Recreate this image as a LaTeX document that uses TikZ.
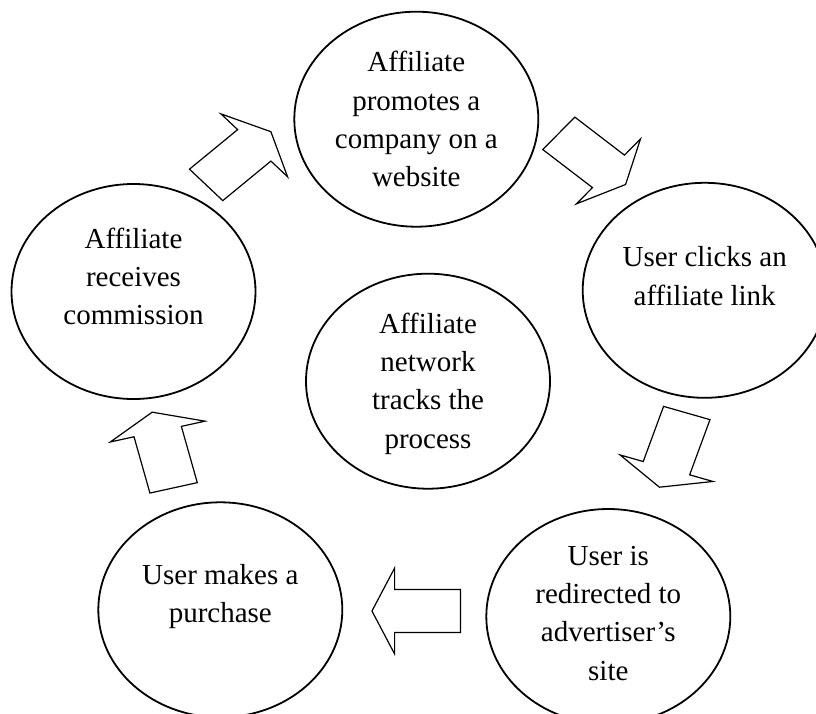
\documentclass[tikz,border=0pt]{standalone}
\usepackage{fontspec}
\setmainfont{Liberation Serif}
\usetikzlibrary{shapes.geometric}

\begin{document}
\begin{tikzpicture}[x=1pt, y=-1pt,
        stage/.style={draw, ellipse, line width=1.8pt, minimum width=244pt, minimum height=215pt,
            inner sep=0pt, align=center, text depth=0pt, font=\fontsize{29pt}{38.3pt}\selectfont},
        pics/blockarrow/.style={code={
            \draw[line width=1.2pt] (-39,-21.5) -- (19,-21.5) -- (19,-43) -- (39,0) -- (19,43) -- (19,21.5) -- (-39,21.5) -- cycle;}}]
        \useasboundingbox (0,0) rectangle (816,713);
        \clip (0,0) rectangle (816,713);
        \node[stage, text height=135pt] (A) at (416.3,119.2) {Affiliate\\promotes a\\company on a\\website};
        \node[stage, text height=29.4pt] (B) at (704.7,290.3) {User clicks an\\affiliate link};
        \node[stage, text height=127pt] (C) at (608.3,616.5) {User is\\redirected to\\advertiser's\\site};
        \node[stage, text height=25.6pt] (D) at (220.3,609.8) {User makes a\\purchase};
        \node[stage, text height=66.8pt] (E) at (133.5,291.5) {Affiliate\\receives\\commission};
        \node[stage, text height=133.6pt] (F) at (428,381.2) {Affiliate\\network\\tracks the\\process};
        \pic[xscale=1.135, rotate=43] at (238.5,158.3) {blockarrow};
        \pic[xscale=1.135, rotate=-41] at (592.2,158.9) {blockarrow};
        \pic[xscale=1.135, rotate=-108] at (673.1,450.1) {blockarrow};
        \pic[xscale=1.135, rotate=180] at (416.2,611) {blockarrow};
        \pic[xscale=1.135, rotate=104] at (162.9,450) {blockarrow};
    \end{tikzpicture}
\end{document}
